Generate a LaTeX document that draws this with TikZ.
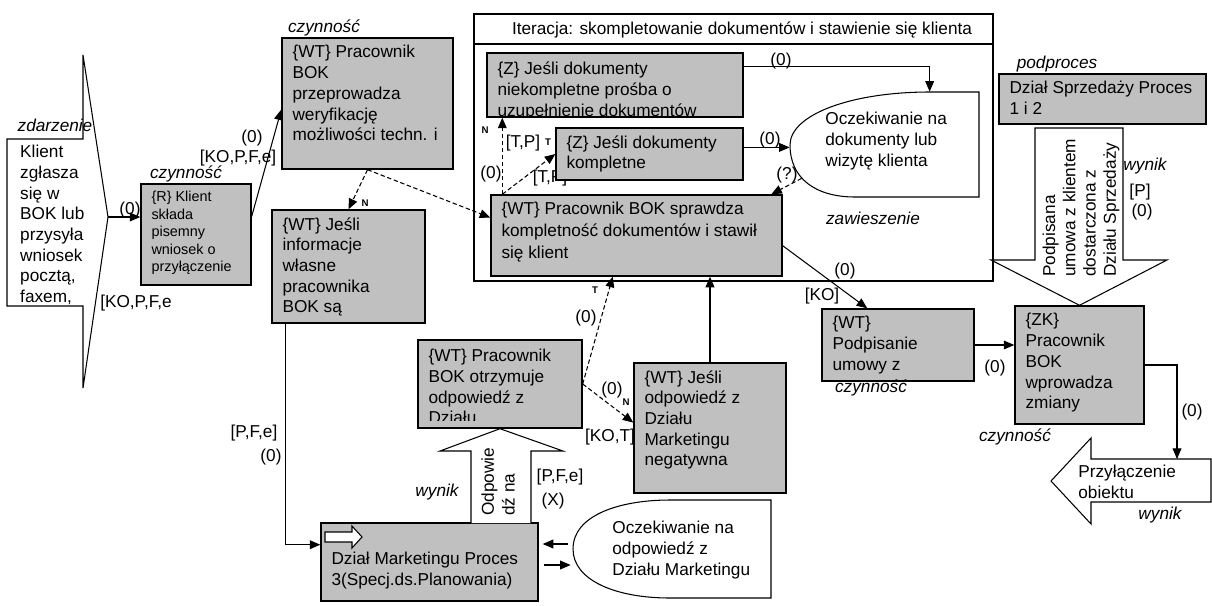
\documentclass[tikz,border=0pt]{standalone}
\usepackage{fontspec}
\setmainfont{Liberation Sans}
\usetikzlibrary{arrows.meta,fit,calc}
\definecolor{boxgray}{HTML}{C0C0C0}

\begin{document}
\begin{tikzpicture}[x=0.02cm,y=-0.02cm,
  gbox/.style={draw, fill=boxgray, line width=0.8pt, inner sep=0pt},
  wbox/.style={draw, fill=white, line width=0.6pt},
  btext/.style={anchor=north west, align=left, inner xsep=6.2pt, inner ysep=4.4pt, font=\fontsize{9.8}{11.8}\selectfont},
  wtext/.style={anchor=west, align=left, inner sep=0pt, font=\fontsize{9.8}{11.8}\selectfont},
  tag/.style={inner sep=0pt, font=\fontsize{9.8}{11.8}\selectfont},
  kind/.style={inner sep=0pt, font=\fontsize{9.8}{11.8}\selectfont\itshape},
  tiny/.style={inner sep=0pt, font=\fontsize{5.5}{6}\selectfont\bfseries},
  arr/.style={-{Triangle[length=6pt,width=5pt]}, line width=0.6pt},
  darr/.style={arr, dash pattern=on 2.5pt off 1.5pt}]
\useasboundingbox (0,0) rectangle (1212,605);

% ramka iteracji
\node[draw, line width=0.8pt, inner sep=0pt, fit={(474,14) (993,281)}] (iter) {};
\draw[line width=0.8pt] (474,44) -- (993,44);
\node[tag] (itert) at (742,30) {Iteracja: skompletowanie dokumentów i stawienie się klienta};

% zdarzenie
\draw[wbox] (7,139) -- (83,139) -- (83,55) -- (108,217) -- (83,388) -- (83,306) -- (7,306) -- cycle;
\coordinate (evtip) at (108,217);
\node[btext] (evt) at (9,137) {Klient\\zgłasza\\się w\\BOK lub\\przysyła\\wniosek\\pocztą,\\faxem,};
\node[kind] (evk) at (55,125) {zdarzenie};

% czynnosci
\node[gbox, fit={(141,184) (251,285)}] (rbox) {};
\node[btext, font=\fontsize{8.2}{9.9}\selectfont] (rboxt) at (rbox.north west) {\{R\} Klient\\składa\\pisemny\\wniosek o\\przyłączenie};
\node[kind] (rboxk) at (186,174) {czynność};

\node[gbox, fit={(282,38) (453,169)}] (ver) {};
\node[btext] (vert) at (ver.north west) {\{WT\} Pracownik\\BOK\\przeprowadza\\weryfikację\\możliwości techn. i};
\node[kind] (verk) at (324,28) {czynność};

\node[gbox, fit={(272,210) (425,323)}] (jinf) {};
\node[btext] (jinft) at (jinf.north west) {\{WT\} Jeśli\\informacje\\własne\\pracownika\\BOK są};

\node[tag] (ltp2) at (550,178) {[T,P]};

\node[gbox, fit={(487,53) (743,117)}] (nie) {};
\begin{scope}
\clip (nie.north west) rectangle (nie.south east);
\node[btext] (niet) at ([yshift=-1pt]nie.north west) {\{Z\} Jeśli dokumenty\\niekompletne prośba o\\uzupełnienie dokumentów};
\end{scope}

\node[gbox, fit={(556,128) (743,180)}] (kom) {};
\node[btext] (komt) at (kom.north west) {\{Z\} Jeśli dokumenty\\kompletne};

\node[gbox, fit={(491,195) (782,276)}] (spr) {};
\node[btext, font=\fontsize{9.8}{12.4}\selectfont] (sprt) at (spr.north west) {\{WT\} Pracownik BOK sprawdza\\kompletność dokumentów i stawił\\się klient};

% zawieszenie
\node[inner sep=0pt, fit={(790,92) (979,197)}] (wdoc) {};
\draw[wbox] (979,92) -- (930,92) .. controls (850,92) and (790,115) .. (790,145) .. controls (790,178) and (815,197) .. (855,197) -- (979,197) -- cycle;
\node[wtext] (wdoct) at (825,141) {Oczekiwanie na\\dokumenty lub\\wizytę klienta};
\node[kind] (wdock) at (873,218) {zawieszenie};

% podproces sprzedazy
\node[gbox, fit={(999,74) (1206,124)}] (sprz) {};
\node[btext] (sprzt) at (sprz.north west) {Dział Sprzedaży Proces\\1 i 2};
\node[kind] (sprzk) at (1057,64) {podproces};

\node[gbox, fit={(822,309) (974,381)}] (pod) {};
\node[btext] (podt) at (pod.north west) {\{WT\}\\Podpisanie\\umowy z};
\node[kind] (podk) at (871,388) {czynność};

\node[gbox, fit={(1015,306) (1144,424)}] (zk) {};
\node[btext] (zkt) at (zk.north west) {\{ZK\}\\Pracownik\\BOK\\wprowadza\\zmiany};
\node[kind] (zkk) at (1015,437) {czynność};

\draw[wbox] (1035,128) -- (1123,128) -- (1123,260) -- (1167,260) -- (zk.north) -- (991,260) -- (1035,260) -- cycle;
\node[wtext, rotate=90, font=\fontsize{9.8}{11.5}\selectfont] (sprzw) at (1081,277) {Podpisana\\umowa z klientem\\dostarczona z\\Działu Sprzedaży};
\node[kind] (sprzwk) at (1145,166) {wynik};
\node[tag] (lp) at (1140,192) {[P]};
\node[tag] (l0g) at (1142,212) {(0)};

% wynik koncowy
\draw[wbox] (1211,459) -- (1091,459) -- (1091,438) -- (1051,481) -- (1091,524) -- (1091,502) -- (1211,502) -- cycle;
\coordinate (ptop) at (1177,459);
\node[wtext] (przt) at (1078,482) {Przyłączenie\\obiektu};
\node[kind] (przk) at (1160,515) {wynik};

% odpowiedz dzialu marketingu
\node[gbox, fit={(418,340) (582,428)}] (otr) {};
\begin{scope}
\clip (otr.north west) rectangle ([yshift=4.5pt]otr.south east);
\node[btext] (otrt) at ([yshift=-1pt]otr.north west) {\{WT\} Pracownik\\BOK otrzymuje\\odpowiedź z\\Działu};
\end{scope}

\node[gbox, fit={(634,363) (786,493)}] (jodp) {};
\node[btext] (jodpt) at (jodp.north west) {\{WT\} Jeśli\\odpowiedź z\\Działu\\Marketingu\\negatywna};

\node[gbox, fit={(321,523) (538,601)}] (mkt) {};
\draw[wbox] (325,532) -- (352,532) -- (352,526) -- (362,537) -- (352,548) -- (352,542) -- (325,542) -- cycle;
\node[btext] (mktt) at ([yshift=-12.5pt]mkt.north west) {Dział Marketingu Proces\\3(Specj.ds.Planowania)};

\draw[wbox] (471,523) -- (471,451) -- (440,451) -- (otr.south) -- (563,451) -- (531,451) -- (531,523);
\node[wtext, rotate=90] (odpt) at (498,516) {Odpowie\\dź na};
\node[kind] (odpk) at (437,492) {wynik};
\node[tag] (lpfe2) at (560,477) {[P,F,e]};
\node[tag] (lx) at (553,501) {(X)};

\node[inner sep=0pt, fit={(573,500) (771,598)}] (wmkt) {};
\draw[wbox] (771,500) -- (670,500) .. controls (620,500) and (573,515) .. (573,549) .. controls (573,580) and (615,598) .. (670,598) -- (771,598) -- cycle;
\node[wtext] (wmktt) at (612,550) {Oczekiwanie na\\odpowiedź z\\Działu Marketingu};

% polaczenia
\draw[arr] (evtip) -- (evtip -| rbox.west);
\node[tag] (l0a) at (130,210) {(0)};
\node[tag] (lkoa) at (136,303) {[KO,P,F,e};

\draw[arr] (rbox.18) -- (ver.184);
\node[tag] (l0b) at (252,138) {(0)};
\node[tag] (lkob) at (238,158) {[KO,P,F,e]};

\draw[darr] (ver.south) -- (jinf.north);
\node[tiny] (ln1) at (365,203) {N};
\draw[darr] (ver.south) -- (spr.173);

\coordinate (sfork) at ($(spr.north west)+(12,0)$);
\draw[darr] (sfork) -- (sfork |- nie.south);
\draw[darr] (sfork) -- (kom.west);
\node[tiny] (ln2) at (485,130) {N};
\node[tag] (ltp1) at (523,143) {[T,P]};
\node[tiny] (lt1) at (548,142) {T};
\node[tag] (l0c) at (491,174) {(0)};

\draw[arr] (nie.8) -| ($(wdoc.north west)+(140,0)$);
\node[tag] (l0d) at (781,61) {(0)};
\draw[arr] (kom.4) -- (kom.4 -| wdoc.west);
\node[tag] (l0e) at (770,140) {(0)};
\draw[darr] ($(wdoc.south west)+(12,-19)$) -- (spr.17);
\node[tag] (lq) at (787,175) {(?)};

\draw[arr] (spr.-4) -- (pod.130);
\node[tag] (l0f) at (845,271) {(0)};
\node[tag] (lko) at (822,296) {[KO]};

\draw[arr] (pod.east) -- (pod.east -| zk.west);
\node[tag] (l0h) at (995,368) {(0)};
\draw[arr] (zk.east) -| (ptop);
\node[tag] (l0i) at (1192,412) {(0)};

\draw[arr] ($(jinf.south west)+(14,0)$) |- (mkt.171);
\node[tag] (lpfe1) at (254,433) {[P,F,e]};
\node[tag] (l0j) at (271,457) {(0)};

\draw[darr] (otr.east) -- (spr.240);
\node[tiny] (lt2) at (595,290) {T};
\node[tag] (l0k) at (586,318) {(0)};
\draw[darr] (otr.east) -- (jodp.176);
\node[tag] (l0l) at (612,390) {(0)};
\node[tiny] (ln3) at (626,402) {N};
\node[tag] (lkot) at (610,437) {[KO,T]};
\draw[arr] (jodp.north) -- (jodp.north |- spr.south);

\draw[arr] ($(wmkt.west)+(-5,-5)$) -- ($(mkt.east)+(4,-18)$);
\draw[arr] ($(mkt.east)+(5,3)$) -- ($(wmkt.west)+(-2,16)$);
\end{tikzpicture}
\end{document}
